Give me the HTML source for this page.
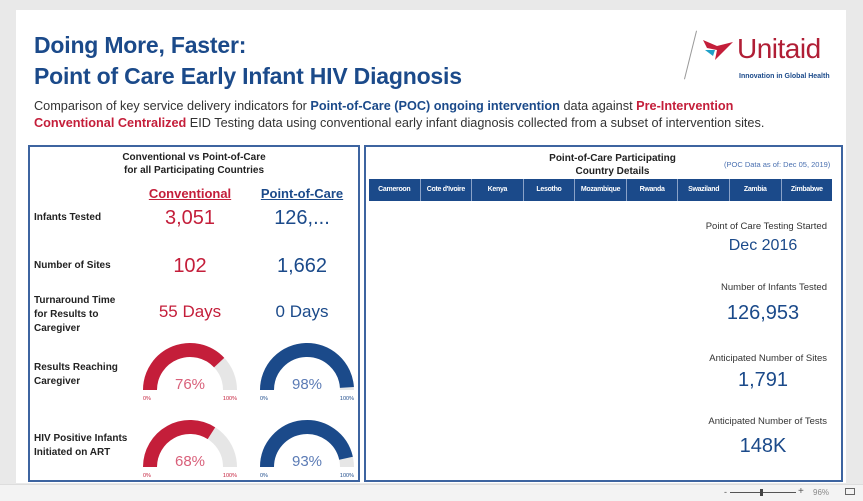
<!DOCTYPE html>
<html><head><meta charset="utf-8"><style>
*{margin:0;padding:0;box-sizing:border-box}
body{width:863px;height:501px;background:#e9e9e9;font-family:"Liberation Sans",sans-serif;position:relative;overflow:hidden}
.a{position:absolute;white-space:nowrap}
.blue{color:#1b4a8a}.red{color:#c41e3a}
</style></head><body>
<div class="a" style="left:16px;top:10px;width:830px;height:473px;background:#fff"></div>
<div class="a blue" style="left:34px;top:30px;font-size:23px;font-weight:bold;line-height:31px;letter-spacing:-0.2px">Doing More, Faster:<br>Point of Care Early Infant HIV Diagnosis</div>
<div class="a" style="left:690px;top:30px;width:1px;height:50px;background:#999;transform:rotate(14deg)"></div>
<svg class="a" style="left:703px;top:38px" width="34" height="24"><polygon points="0,2 14,8 30,4 22,12 12,22 14,12 4,10" fill="#c41e3a"/><polygon points="2,12 12,12 10,18" fill="#1fa0c8"/></svg>
<div class="a" style="left:737px;top:33px;font-size:28px;color:#b01e35;letter-spacing:-0.5px">Unitaid</div>
<div class="a blue" style="left:739px;top:73px;font-size:7px;font-weight:bold">Innovation in Global Health</div>
<div class="a" style="left:34px;top:98px;font-size:12.7px;line-height:17px;color:#333">Comparison of key service delivery indicators for <b class="blue">Point-of-Care (POC) ongoing intervention</b> data against <b class="red">Pre-Intervention</b><br><b class="red">Conventional Centralized</b> EID Testing data using conventional early infant diagnosis collected from a subset of intervention sites.</div>

<div class="a" style="left:28px;top:145px;width:332px;height:337px;border:2px solid #3d64a0"></div>
<div class="a" style="left:28px;top:151px;width:332px;text-align:center;font-size:10px;font-weight:bold;line-height:13px;color:#222">Conventional vs Point-of-Care<br>for all Participating Countries</div>
<div class="a red" style="left:140px;top:186px;width:100px;text-align:center;font-size:13px;font-weight:bold;text-decoration:underline">Conventional</div>
<div class="a blue" style="left:252px;top:186px;width:100px;text-align:center;font-size:13px;font-weight:bold;text-decoration:underline">Point-of-Care</div>

<div class="a" style="left:34px;top:212px;font-size:10px;font-weight:bold;color:#222">Infants Tested</div>
<div class="a red" style="left:140px;top:207px;width:100px;text-align:center;font-size:20px">3,051</div>
<div class="a blue" style="left:252px;top:207px;width:100px;text-align:center;font-size:20px">126,...</div>
<div class="a" style="left:34px;top:260px;font-size:10px;font-weight:bold;color:#222">Number of Sites</div>
<div class="a red" style="left:140px;top:255px;width:100px;text-align:center;font-size:20px">102</div>
<div class="a blue" style="left:252px;top:255px;width:100px;text-align:center;font-size:20px">1,662</div>
<div class="a" style="left:34px;top:294px;font-size:10px;font-weight:bold;line-height:14px;color:#222">Turnaround Time<br>for Results to<br>Caregiver</div>
<div class="a red" style="left:140px;top:302px;width:100px;text-align:center;font-size:17px">55 Days</div>
<div class="a blue" style="left:252px;top:302px;width:100px;text-align:center;font-size:17px">0 Days</div>
<div class="a" style="left:34px;top:361px;font-size:10px;font-weight:bold;line-height:14px;color:#222">Results Reaching<br>Caregiver</div>
<div class="a" style="left:34px;top:432px;font-size:10px;font-weight:bold;line-height:14px;color:#222">HIV Positive Infants<br>Initiated on ART</div>
<svg class="a" id="gauges" style="left:0;top:0" width="863" height="501"></svg>

<div class="a" style="left:364px;top:145px;width:479px;height:337px;border:2px solid #3d64a0"></div>
<div class="a" style="left:530px;top:152px;width:165px;text-align:center;font-size:10px;font-weight:bold;line-height:13px;color:#222">Point-of-Care Participating<br>Country Details</div>
<div class="a blue" style="left:724px;top:160px;font-size:7.5px;color:#4a70b0">(POC Data as of: Dec 05, 2019)</div>
<div class="a" id="tabs" style="left:369px;top:179px;width:463px;height:22px;background:#1b4a8a;display:flex"></div>

<div class="a" style="right:36px;top:221px;font-size:9.5px;color:#333">Point of Care Testing Started</div>
<div class="a blue" style="left:700px;top:237px;width:126px;text-align:center;font-size:16px">Dec 2016</div>
<div class="a" style="right:36px;top:282px;font-size:9.5px;color:#333">Number of Infants Tested</div>
<div class="a blue" style="left:680px;top:302px;width:166px;text-align:center;font-size:20px">126,953</div>
<div class="a" style="right:36px;top:353px;font-size:9.5px;color:#333">Anticipated Number of Sites</div>
<div class="a blue" style="left:700px;top:369px;width:126px;text-align:center;font-size:20px">1,791</div>
<div class="a" style="right:36px;top:416px;font-size:9.5px;color:#333">Anticipated Number of Tests</div>
<div class="a blue" style="left:700px;top:435px;width:126px;text-align:center;font-size:20px">148K</div>

<div class="a" style="left:0;top:484px;width:863px;height:17px;background:#f3f3f3;border-top:1px solid #ddd"></div>
<div class="a" style="left:724px;top:487px;font-size:9px;color:#555">-</div>
<div class="a" style="left:730px;top:492px;width:66px;height:1px;background:#555"></div>
<div class="a" style="left:760px;top:489px;width:3px;height:7px;background:#444"></div>
<div class="a" style="left:798px;top:486px;font-size:10px;color:#555">+</div>
<div class="a" style="left:813px;top:488px;font-size:8px;color:#888">96%</div>
<div class="a" style="left:845px;top:488px;width:10px;height:7px;border:1px solid #666"></div>

<script>
const countries=["Cameroon","Cote d'Ivoire","Kenya","Lesotho","Mozambique","Rwanda","Swaziland","Zambia","Zimbabwe"];
const gaugeMetrics=["results-reaching","hiv-art"];
const conventionalPct=[76,68];
const pocPct=[98,93];
const tabs=document.getElementById('tabs');
countries.forEach((c,i)=>{const d=document.createElement('div');


d.textContent=c;
d.style.cssText='flex:1;color:#fff;font-size:7px;font-weight:bold;text-align:center;line-height:22px;letter-spacing:-0.3px;'+(i?'border-left:1px solid #8aa2c8;':'');
tabs.appendChild(d);});
const svg=document.getElementById('gauges'),NS='http://www.w3.org/2000/svg';
function arc(cx,cy,r,a0,a1){const p=a=>[cx-r*Math.cos(a*Math.PI),cy-r*Math.sin(a*Math.PI)];const s=p(a0),e=p(a1);return `M${s[0]},${s[1]} A${r},${r} 0 0 1 ${e[0]},${e[1]}`;}
function gauge(cx,cy,v,col,txtcol,name){
const R=40,W=14;
const bg=document.createElementNS(NS,'path');bg.setAttribute('d',arc(cx,cy,R,0,1));bg.setAttribute('stroke','#e6e6e6');bg.setAttribute('stroke-width',W);bg.setAttribute('fill','none');


svg.appendChild(bg);
const fg=document.createElementNS(NS,'path');fg.setAttribute('d',arc(cx,cy,R,0,v/100));fg.setAttribute('stroke',col);fg.setAttribute('stroke-width',W);fg.setAttribute('fill','none');


svg.appendChild(fg);
const t=document.createElementNS(NS,'text');t.setAttribute('x',cx);t.setAttribute('y',cy-1);t.setAttribute('text-anchor','middle');t.setAttribute('font-size','15');t.setAttribute('fill',txtcol);t.setAttribute('font-family','Liberation Sans,sans-serif');t.textContent=v+'%';


svg.appendChild(t);
[[cx-R-W/2,'0%','start'],[cx+R+W/2,'100%','end']].forEach(([x,s,a])=>{const l=document.createElementNS(NS,'text');l.setAttribute('x',x);l.setAttribute('y',cy+10);l.setAttribute('text-anchor',a);l.setAttribute('font-size','5.5');l.setAttribute('fill',col);l.setAttribute('font-family','Liberation Sans,sans-serif');l.textContent=s;


svg.appendChild(l);});
}
const rowY=[390,467];
gaugeMetrics.forEach((m,i)=>{
gauge(190,rowY[i],conventionalPct[i],'#c41e3a','#d9607a','conventional-'+m+'-gauge');
gauge(307,rowY[i],pocPct[i],'#1b4a8a','#5b7bb5','poc-'+m+'-gauge');
});
</script>
</body></html>
